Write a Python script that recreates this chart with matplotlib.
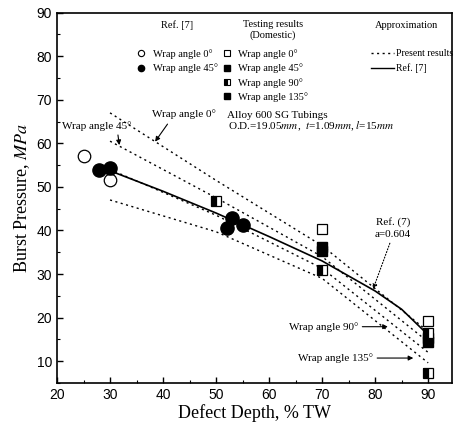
import matplotlib
matplotlib.use('Agg')
import matplotlib.pyplot as plt
from matplotlib.lines import Line2D
from matplotlib.ticker import MultipleLocator

plt.rcParams['font.family'] = 'Liberation Serif'
plt.rcParams['mathtext.fontset'] = 'stix'

# Ref. [7] test data
ref_x0 = [25, 30]
ref_y0 = [57.0, 51.6]
ref_x45 = [28, 30, 52, 53, 55]
ref_y45 = [53.8, 54.4, 40.6, 42.8, 41.3]

# domestic test results
dom_x0 = [70, 90]
dom_y0 = [40.4, 19.2]
dom_x45 = [70, 90]
dom_y45 = [36.3, 15.2]
dom_x90 = [50, 70, 90, 90]
dom_y90 = [46.8, 30.9, 16.4, 7.3]
dom_x135 = [70, 90]
dom_y135 = [35.2, 14.4]

# approximation curves
ref_line_x = [30, 40, 50, 60, 70, 80, 85, 89]
ref_line_y = [53.7, 49.0, 44.0, 38.6, 33.0, 26.1, 21.9, 17.2]
pres_x = [30, 50, 70, 90]
pres_w0 = [67.0, 51.5, 36.5, 16.8]
pres_w45 = [60.5, 47.5, 34.0, 14.4]
pres_w90 = [54.0, 43.5, 31.3, 12.0]
pres_w135 = [47.0, 39.7, 29.0, 9.6]

fig = plt.figure(figsize=(4.54, 4.24), dpi=100)
ax = fig.add_axes([0.1256, 0.097, 0.87, 0.873])

dot = (0, (1.5, 2.5))
for yy in [pres_w0, pres_w45, pres_w90, pres_w135]:
    ax.plot(pres_x, yy, color='black', lw=1.0, ls=dot)
ax.plot(ref_line_x, ref_line_y, color='black', lw=1.2)

ax.plot(ref_x0, ref_y0, 'o', ms=9, mfc='white', mec='black', mew=0.9)
ax.plot(ref_x45, ref_y45, 'o', ms=9.5, mfc='black', mec='black')
ax.plot(dom_x0, dom_y0, 's', ms=7, mfc='white', mec='black', mew=0.9)
ax.plot(dom_x45, dom_y45, 's', ms=7, mfc='black', mec='black')
ax.plot(dom_x135, dom_y135, 's', ms=7, mfc='black', mec='black')
ax.plot(dom_x90, dom_y90, 's', ms=7, mec='black', mfc='black',
        fillstyle='left', markerfacecoloralt='white', mew=0.9)

ax.set_xlim(20, 94.5)
ax.set_ylim(5, 90)
ax.xaxis.set_major_locator(MultipleLocator(10))
ax.xaxis.set_minor_locator(MultipleLocator(5))
ax.yaxis.set_major_locator(MultipleLocator(10))
ax.yaxis.set_minor_locator(MultipleLocator(5))
ax.tick_params(which='both', direction='in', top=False, right=False)
ax.tick_params(which='major', length=4, width=1)
ax.tick_params(which='minor', length=2, width=0.8)
for lab in ax.get_xticklabels() + ax.get_yticklabels():
    lab.set_family('Liberation Sans')
    lab.set_fontsize(10)
for s in ax.spines.values():
    s.set_linewidth(1.2)

ax.set_xlabel('Defect Depth, % TW', fontsize=13, labelpad=2)
ax.set_ylabel('Burst Pressure, $MPa$', fontsize=13, labelpad=3)

# legend columns
fs = 7.5
ax.text(0.304, 0.966, 'Ref. [7]', transform=ax.transAxes, fontsize=fs, ha='center', va='center')
ax.text(0.547, 0.969, 'Testing results', transform=ax.transAxes, fontsize=fs, ha='center', va='center')
ax.text(0.547, 0.939, '(Domestic)', transform=ax.transAxes, fontsize=fs, ha='center', va='center')
ax.text(0.886, 0.966, 'Approximation', transform=ax.transAxes, fontsize=fs, ha='center', va='center')

h1 = [Line2D([], [], ls='none', marker='o', ms=4.5, mfc='white', mec='black', mew=0.8),
      Line2D([], [], ls='none', marker='o', ms=4.5, mfc='black', mec='black')]
leg1 = ax.legend(h1, ['Wrap angle 0°', 'Wrap angle 45°'], loc='upper left',
                 bbox_to_anchor=(0.20, 0.902), frameon=False, fontsize=fs,
                 handlelength=1.0, handletextpad=0.6, labelspacing=0.45,
                 borderaxespad=0, borderpad=0)
ax.add_artist(leg1)

h2 = [Line2D([], [], ls='none', marker='s', ms=4, mfc='white', mec='black', mew=0.8),
      Line2D([], [], ls='none', marker='s', ms=4, mfc='black', mec='black'),
      Line2D([], [], ls='none', marker='s', ms=4, mfc='black', mec='black',
             fillstyle='left', markerfacecoloralt='white', mew=0.8),
      Line2D([], [], ls='none', marker='s', ms=4, mfc='black', mec='black')]
leg2 = ax.legend(h2, ['Wrap angle 0°', 'Wrap angle 45°', 'Wrap angle 90°', 'Wrap angle 135°'],
                 loc='upper left', bbox_to_anchor=(0.417, 0.902), frameon=False, fontsize=fs,
                 handlelength=1.0, handletextpad=0.6, labelspacing=0.45,
                 borderaxespad=0, borderpad=0)
ax.add_artist(leg2)

h3 = [Line2D([], [], color='black', lw=1.0, ls=dot),
      Line2D([], [], color='black', lw=1.0)]
ax.legend(h3, ['Present results', 'Ref. [7]'], loc='upper left',
          bbox_to_anchor=(0.795, 0.902), frameon=False, fontsize=7,
          handlelength=2.4, handletextpad=0.15, labelspacing=0.55,
          borderaxespad=0, borderpad=0)

# annotations
ax.annotate('Wrap angle 0°', xy=(38.5, 60.4), xytext=(37.9, 66.7), fontsize=8,
            ha='left', va='center',
            arrowprops=dict(arrowstyle='-|>', color='black', lw=0.8, mutation_scale=7,
                            shrinkA=2, shrinkB=0, relpos=(0.3, 0.0)))
ax.annotate('Wrap angle 45°', xy=(31.75, 59.6), xytext=(20.9, 64.0), fontsize=8,
            ha='left', va='center',
            arrowprops=dict(arrowstyle='-|>', color='black', lw=0.8, mutation_scale=7,
                            shrinkA=1, shrinkB=0, relpos=(0.8, 0.0)))
ax.text(61.5, 66.5, 'Alloy 600 SG Tubings', fontsize=8, ha='center', va='center')
ax.text(67.9, 63.9, 'O.D.=19.05$mm$,  $t$=1.09$mm$, $l$=15$mm$', fontsize=8,
        ha='center', va='center')
ax.annotate('Ref. (7)\na=0.604', xy=(79.6, 26.5), xytext=(83.4, 40.5), fontsize=8,
            ha='center', va='center', linespacing=1.4,
            arrowprops=dict(arrowstyle='-|>', color='black', lw=0.8, ls=':',
                            mutation_scale=7, shrinkA=1, shrinkB=0, relpos=(0.45, 0.0)))
ax.annotate('Wrap angle 90°', xy=(82.4, 17.9), xytext=(76.8, 17.9), fontsize=8,
            ha='right', va='center',
            arrowprops=dict(arrowstyle='-|>', color='black', lw=0.8, mutation_scale=7,
                            shrinkA=1, shrinkB=0))
ax.annotate('Wrap angle 135°', xy=(87.2, 10.7), xytext=(79.6, 10.7), fontsize=8,
            ha='right', va='center',
            arrowprops=dict(arrowstyle='-|>', color='black', lw=0.8, mutation_scale=7,
                            shrinkA=1, shrinkB=0))

fig.savefig('out.png', dpi=100)
